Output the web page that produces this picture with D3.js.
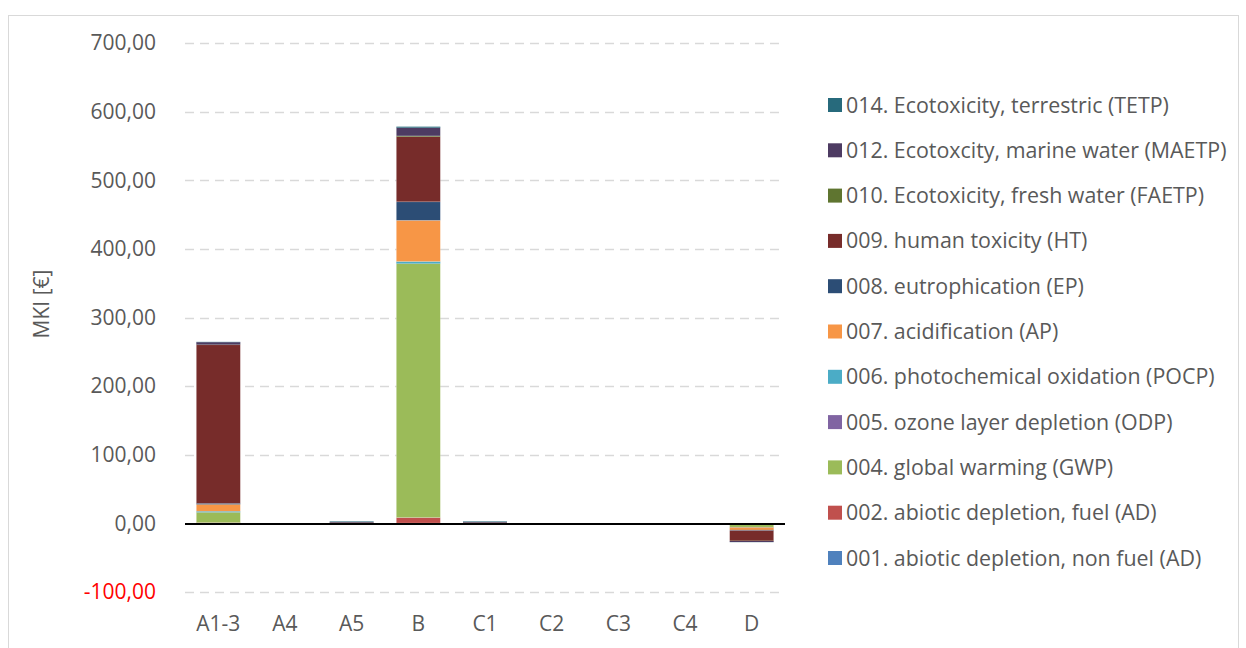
<!DOCTYPE html>
<html><head><meta charset="utf-8">
<script src="https://cdn.jsdelivr.net/npm/d3@7"></script>
<style>
html,body{margin:0;padding:0;background:#fff;}
svg{display:block;}
text{font-family:"Open Sans",sans-serif;fill:#595959;}
</style></head>
<body>
<svg id="chart" width="1246" height="648"></svg>
<script>
const categories = ["A1-3","A4","A5","B","C1","C2","C3","C4","D"];
const seriesNames = [
  "001. abiotic depletion, non fuel (AD)",
  "002. abiotic depletion, fuel (AD)",
  "004. global warming (GWP)",
  "005. ozone layer depletion (ODP)",
  "006. photochemical oxidation (POCP)",
  "007. acidification (AP)",
  "008. eutrophication (EP)",
  "009. human toxicity (HT)",
  "010. Ecotoxicity, fresh water (FAETP)",
  "012. Ecotoxcity, marine water (MAETP)",
  "014. Ecotoxicity, terrestric (TETP)"
];
const seriesColors = ["#4F81BD","#C0504D","#9BBB59","#8064A2","#4BACC6","#F79646","#2C4D75","#772C2A","#5F7530","#4D3B62","#276A7C"];
const s001 = [0.3, 0, 0, 0.5, 0, 0, 0, 0, -0.2];
const s002 = [0.8, 0, 0.1, 8, 0.1, 0, 0, 0, -0.3];
const s004 = [15, 0, 0.2, 370, 0.2, 0, 0, 0, -5];
const s005 = [0.1, 0, 0, 0.1, 0, 0, 0, 0, 0];
const s006 = [1.5, 0, 0, 3, 0, 0, 0, 0, -0.5];
const s007 = [10, 0, 0.1, 60, 0.1, 0, 0, 0, -3.5];
const s008 = [1.5, 0, 0.8, 27, 0.8, 0, 0, 0, -1];
const s009 = [231, 0, 0.5, 95, 0.5, 0, 0, 0, -15];
const s010 = [0.3, 0, 0, 1, 0, 0, 0, 0, -0.2];
const s012 = [3.5, 0, 0.4, 12, 0.4, 0, 0, 0, -1.5];
const s014 = [0.5, 0, 0.8, 1.5, 0.8, 0, 0, 0, -0.2];
const seriesValues = [s001,s002,s004,s005,s006,s007,s008,s009,s010,s012,s014];
const yTicks = [-100,0,100,200,300,400,500,600,700];
const yTitle = "MKI [€]";

const svg = d3.select("#chart");
svg.append("rect").attr("x",8.5).attr("y",15.5).attr("width",1230).attr("height",660)
  .attr("fill","none").attr("stroke","#d9d9d9").attr("stroke-width",1);

const plot = {left:185, right:785, top:43, bottom:592};
const x = d3.scaleBand().domain(categories).range([plot.left, plot.right]).paddingInner(0.34).paddingOuter(0.17);
const y = d3.scaleLinear().domain([-100,700]).range([plot.bottom, plot.top]);

svg.append("g").selectAll("line").data(yTicks.filter(d=>d!==0)).join("line")
  .attr("x1",plot.left).attr("x2",plot.right)
  .attr("y1",d=>Math.round(y(d))+0.5).attr("y2",d=>Math.round(y(d))+0.5)
  .attr("stroke","#d9d9d9").attr("stroke-width",1.3).attr("stroke-dasharray","9,6");

const fmt = d => d3.format(".2f")(d).replace(".",",").replace("\u2212","-");
svg.append("g").selectAll("text").data(yTicks).join("text")
  .attr("x",156).attr("y",d=>y(d)).attr("dy","0.35em").attr("text-anchor","end")
  .style("font-size","21px")
  .style("fill",d=>d<0?"#FF0000":"#595959")
  .text(fmt);

const rows = categories.map((c,i)=>{
  const r={cat:c};
  seriesNames.forEach((n,j)=>r[n]=seriesValues[j][i]);
  return r;
});
const stack = d3.stack().keys(seriesNames).order(d3.stackOrderNone).offset(d3.stackOffsetDiverging);
const stacked = stack(rows);

svg.append("g").selectAll("g").data(stacked).join("g")
  .attr("fill",(d,i)=>seriesColors[i])
  .selectAll("rect").data(d=>d).join("rect")
  .attr("x",d=>x(d.data.cat))
  .attr("width",x.bandwidth())
  .attr("y",d=>y(Math.max(d[0],d[1])))
  .attr("height",d=>Math.abs(y(d[0])-y(d[1])))
  .attr("stroke",d=>Math.abs(y(d[0])-y(d[1]))>3?"rgba(255,255,255,0.3)":"none").attr("stroke-width",0.6);

svg.append("line").attr("x1",plot.left).attr("x2",plot.right)
  .attr("y1",y(0)+0.5).attr("y2",y(0)+0.5).attr("stroke","#000").attr("stroke-width",2);

svg.append("g").selectAll("text").data(categories).join("text")
  .attr("x",d=>x(d)+x.bandwidth()/2).attr("y",631).attr("text-anchor","middle")
  .style("font-size","21px").text(d=>d);

svg.append("text").attr("transform","translate(49,304) rotate(-90)")
  .attr("text-anchor","middle").style("font-size","21px").text(yTitle);

const legendOrder = seriesNames.map((n,i)=>i).reverse();
const lg = svg.append("g").selectAll("g").data(legendOrder).join("g")
  .attr("transform",(d,k)=>`translate(828,${105+k*45.3})`);
lg.append("rect").attr("x",0).attr("y",-7).attr("width",14).attr("height",14).attr("fill",d=>seriesColors[d]);
lg.append("text").attr("x",18).attr("y",0).attr("dy","0.35em").style("font-size","21.4px").text(d=>seriesNames[d]);
</script>
</body></html>
